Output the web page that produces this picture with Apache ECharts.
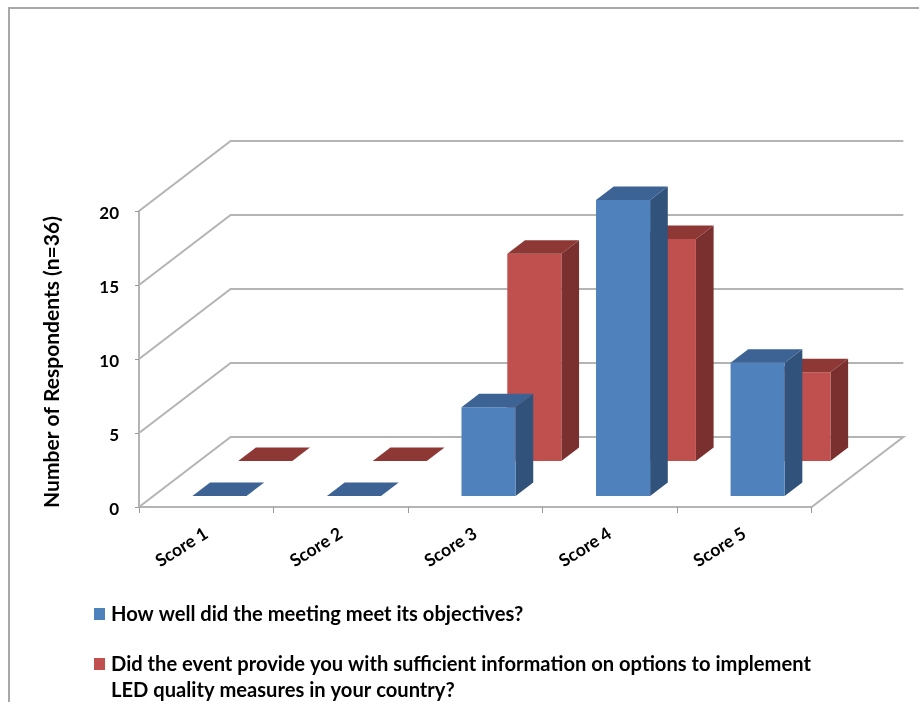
<!DOCTYPE html>
<html>
<head>
<meta charset="utf-8">
<style>html,body{margin:0;padding:0;background:#fff}#c{width:919px;height:702px}</style>
<script src="https://cdn.jsdelivr.net/npm/echarts@6/dist/echarts.min.js"></script>
</head>
<body>
<div id="c"></div>
<script>
const categories = ['Score 1', 'Score 2', 'Score 3', 'Score 4', 'Score 5'];
const meetingObjectives = [0, 0, 6, 20, 9];
const sufficientInfo = [0, 0, 14, 15, 6];
const yTicks = [0, 5, 10, 15, 20];
const blueName = 'How well did the meeting meet its objectives?';
const redLine1 = 'Did the event provide you with sufficient information on options to implement';
const redLine2 = 'LED quality measures in your country?';
const yName = 'Number of Respondents (n=36)';

const FONT = 'Lato';
const DEPTH_X = 0.681, DEPTH_Y = 4.73;   // wall depth: category widths, value units
const BAR_GAP = 0.29, BAR_W = 0.402, BAR_DEPTH = 0.193;
const GRID_COLOR = '#b4b4b4';

function wallItem(params, api) {
  const v = api.value(1);
  const size = api.size([1, 1]);
  const dx = DEPTH_X * size[0], dy = DEPTH_Y * size[1];
  const c0 = api.coord([0, v]);
  const c1 = api.coord([categories.length - 1, v]);
  const l = c0[0] - size[0] / 2, r = c1[0] + size[0] / 2, y = c0[1];
  const style = { stroke: GRID_COLOR, lineWidth: 2, fill: null };
  const pts = [[l, y], [l + dx, y - dy], [r + dx, y - dy]];
  if (v === 0) pts.push([r, y]);
  return { type: 'polyline', shape: { points: pts }, style: style, silent: true };
}

function barItem(shift, front, side, top) {
  return function (params, api) {
    const i = api.value(0), v = api.value(1);
    const size = api.size([1, 1]);
    const dx = DEPTH_X * size[0], dy = DEPTH_Y * size[1];
    const base = api.coord([i, 0]), head = api.coord([i, v]);
    const ox = dx * shift - size[0] / 2 + BAR_GAP * size[0], oy = -dy * shift;
    const x0 = base[0] + ox, x1 = x0 + BAR_W * size[0];
    const yb = base[1] + oy, yt = head[1] + oy;
    const ddx = BAR_DEPTH * dx, ddy = BAR_DEPTH * dy;
    const kids = [];
    if (v > 0) {
      kids.push({ type: 'polygon', shape: { points: [[x1, yb], [x1 + ddx, yb - ddy], [x1 + ddx, yt - ddy], [x1, yt]] }, style: { fill: side } });
      kids.push({ type: 'rect', shape: { x: x0, y: yt, width: x1 - x0, height: yb - yt }, style: { fill: front } });
    }
    kids.push({ type: 'polygon', shape: { points: [[x0, yt], [x0 + ddx, yt - ddy], [x1 + ddx, yt - ddy], [x1, yt]] }, style: { fill: top } });
    return { type: 'group', children: kids };
  };
}

const chart = echarts.init(document.getElementById('c'), null, { renderer: 'canvas' });
chart.setOption({
  animation: false,
  backgroundColor: '#fff',
  grid: { left: 139, right: 107.3, top: 211, bottom: 195, containLabel: false },
  xAxis: {
    type: 'category', data: categories,
    axisLine: { lineStyle: { color: GRID_COLOR, width: 2 } },
    axisTick: { show: true, length: 6, lineStyle: { color: '#9a9a9a', width: 1 } },
    axisLabel: { interval: 0, rotate: 32, margin: 25, fontFamily: FONT, fontWeight: 'bold', fontSize: 17.5, color: '#000' },
    splitLine: { show: false }
  },
  yAxis: {
    type: 'value', min: 0, max: 20, interval: 5,
    name: yName, nameLocation: 'middle', nameGap: 76, nameRotate: 90,
    nameTextStyle: { fontFamily: FONT, fontWeight: 'bold', fontSize: 21, color: '#000', padding: [0, 6, 0, 0] },
    axisLine: { show: true, lineStyle: { color: GRID_COLOR, width: 2 } },
    axisTick: { show: true, length: 4, lineStyle: { color: '#9a9a9a', width: 1 } },
    axisLabel: { margin: 20, formatter: '{a|{value}}',
      rich: { a: { fontFamily: FONT, fontWeight: 'bold', fontSize: 17, color: '#000', padding: [5, 0, 0, 0] } } },
    splitLine: { show: false }
  },
  legend: {
    orient: 'vertical', left: 94, top: 604, padding: 0, itemWidth: 11, itemHeight: 12, itemGap: 30,
    icon: 'rect', selectedMode: false,
    data: [blueName, redLine1],
    textStyle: { fontFamily: FONT, fontWeight: 'bold', fontSize: 20.15, color: '#000', padding: [0, 0, 0, 1] }
  },
  graphic: [
    { type: 'polyline', silent: true, shape: { points: [[9, 702], [9, 8], [919, 8]] }, style: { stroke: '#a8a8a8', lineWidth: 2, fill: null } },
    { type: 'text', silent: true, x: 111, y: 690, style: { text: redLine2, fontFamily: FONT, fontWeight: 'bold', fontSize: 20.15, fill: '#000', verticalAlign: 'middle' } }
  ],
  series: [
    { type: 'custom', name: 'walls', silent: true, z: 1, clip: false, renderItem: wallItem, encode: { x: 0, y: 1 },
      data: yTicks.map(v => [0, v]) },
    { type: 'custom', name: redLine1, z: 2, clip: false, itemStyle: { color: '#C0504D' }, encode: { x: 0, y: 1 },
      renderItem: barItem(0.657, '#C0504D', '#7A302E', '#8E3835'),
      data: sufficientInfo.map((v, i) => [i, v]) },
    { type: 'custom', name: blueName, z: 3, clip: false, itemStyle: { color: '#4F81BD' }, encode: { x: 0, y: 1 },
      renderItem: barItem(0.157, '#4F81BD', '#31527A', '#3C6394'),
      data: meetingObjectives.map((v, i) => [i, v]) }
  ]
});
</script>
</body>
</html>
